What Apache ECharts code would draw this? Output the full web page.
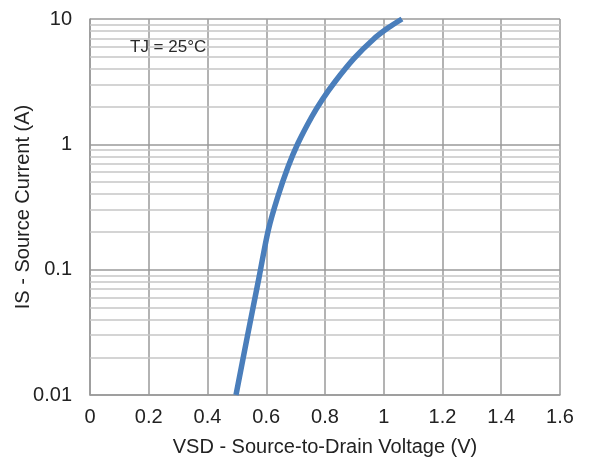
<!DOCTYPE html>
<html>
<head>
<meta charset="utf-8">
<script src="https://cdn.jsdelivr.net/npm/echarts@6/dist/echarts.min.js"></script>
<style>
  html, body { margin: 0; padding: 0; background: #fff; }
  #chart { width: 590px; height: 459px; }
</style>
</head>
<body>
<div id="chart"></div>
<script>
// forward voltage VSD (V) and source current IS (A)
const vsd = [0.497, 0.534, 0.576, 0.607, 0.639, 0.674, 0.708, 0.755, 0.791, 0.834, 0.899, 0.965, 1.015, 1.062];
const isCurrent = [0.01, 0.028, 0.088, 0.207, 0.38, 0.66, 1.02, 1.66, 2.28, 3.16, 4.85, 6.9, 8.5, 10];
// minor grid lines at 2..9 of each decade
const minorLevels = [0.02, 0.03, 0.04, 0.05, 0.06, 0.07, 0.08, 0.09,
                     0.2, 0.3, 0.4, 0.5, 0.6, 0.7, 0.8, 0.9,
                     2, 3, 4, 5, 6, 7, 8, 9];
const xTicks = [0, 0.2, 0.4, 0.6, 0.8, 1, 1.2, 1.4, 1.6];

const chart = echarts.init(document.getElementById('chart'));
const font = 'Liberation Sans, Arial, sans-serif';

const option = {
  animation: false,
  grid: { left: 90, right: 30, top: 19, bottom: 64, outerBoundsMode: 'none', containLabel: false },
  graphic: [{
    type: 'text', left: 130, top: 39, z: 10,
    style: { text: 'TJ = 25°C', fontSize: 17, fontFamily: font, fill: '#2a2a2a' }
  }],
  xAxis: {
    type: 'value', min: 0, max: 1.6, interval: 0.2,
    name: 'VSD - Source-to-Drain Voltage (V)',
    nameLocation: 'middle', nameGap: 42, nameMoveOverlap: false,
    nameTextStyle: { fontSize: 20, fontFamily: font, color: '#222' },
    axisLine: { show: true, lineStyle: { color: '#999', width: 1.5 } },
    axisTick: { show: false },
    axisLabel: {
      fontSize: 20, fontFamily: font, color: '#222', margin: 12,
      formatter: v => xTicks.includes(+v.toFixed(1)) ? String(+v.toFixed(1)) : ''
    },
    splitLine: { show: true, lineStyle: { color: '#9a9a9a', width: 1.5 } }
  },
  yAxis: {
    type: 'log', logBase: 10, min: 0.01, max: 10,
    name: 'IS - Source Current (A)',
    nameLocation: 'middle', nameGap: 57, nameMoveOverlap: false,
    nameTextStyle: { fontSize: 20, fontFamily: font, color: '#222' },
    axisLine: { show: true, lineStyle: { color: '#999', width: 1.5 } },
    axisTick: { show: false },
    axisLabel: { fontSize: 20, fontFamily: font, color: '#222', margin: 18 },
    splitLine: { show: true, lineStyle: { color: '#9a9a9a', width: 1.5 } }
  },
  series: [
    {
      type: 'line',
      data: [],
      silent: true,
      markLine: {
        silent: true,
        symbol: 'none',
        label: { show: false },
        lineStyle: { color: '#c6c6c6', width: 1.5, type: 'solid' },
        data: minorLevels.map(v => ({ yAxis: v }))
      }
    },
    {
      type: 'line',
      data: vsd.map((x, i) => [x, isCurrent[i]]),
      smooth: 0.3,
      showSymbol: false,
      lineStyle: { color: '#4a7ebb', width: 5.5 },
      z: 5
    }
  ]
};
chart.setOption(option);
</script>
</body>
</html>
